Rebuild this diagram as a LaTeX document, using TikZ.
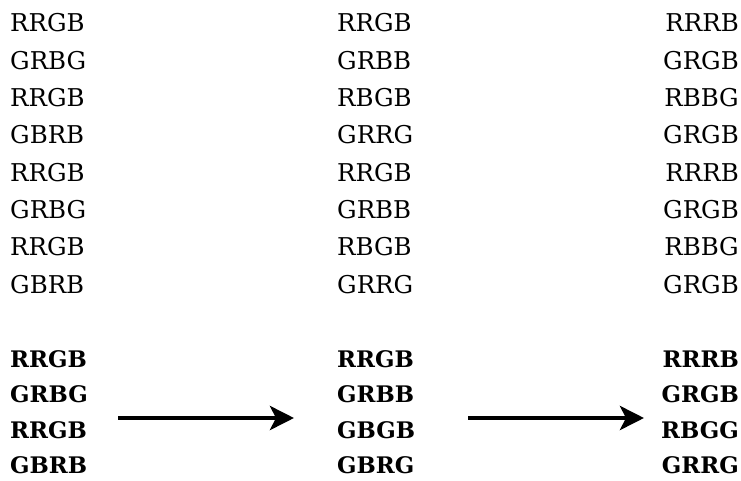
\documentclass[tikz,border=0pt]{standalone}
\usepackage{fontspec}
\setmainfont{DejaVu Serif}
\usetikzlibrary{arrows.meta}
\tikzset{
  seq/.style={inner sep=0pt, anchor=base west, font=\fontsize{24.5}{24.5}\selectfont},
  seqb/.style={seq, font=\fontsize{22.8}{22.8}\selectfont\bfseries},
  seqr/.style={seq, anchor=base east},
  seqbr/.style={seqb, anchor=base east},
  bigarrow/.style={line width=4.5pt, -{Stealth[length=24pt,width=24pt,inset=6pt]}}
}
\begin{document}
\begin{tikzpicture}[x=1pt,y=-1pt]
\useasboundingbox (0,0) rectangle (741,481);
% column 1
\node[seq] (a1) at (10,32) {RRGB};
\node[seq] (a2) at (10,69.3) {GRBG};
\node[seq] (a3) at (10,106.6) {RRGB};
\node[seq] (a4) at (10,143.9) {GBRB};
\node[seq] (a5) at (10,181.2) {RRGB};
\node[seq] (a6) at (10,218.5) {GRBG};
\node[seq] (a7) at (10,255.8) {RRGB};
\node[seq] (a8) at (10,293) {GBRB};
% column 2
\node[seq] (b1) at (337,32) {RRGB};
\node[seq] (b2) at (337,69.3) {GRBB};
\node[seq] (b3) at (337,106.6) {RBGB};
\node[seq] (b4) at (337,143.9) {GRRG};
\node[seq] (b5) at (337,181.2) {RRGB};
\node[seq] (b6) at (337,218.5) {GRBB};
\node[seq] (b7) at (337,255.8) {RBGB};
\node[seq] (b8) at (337,293) {GRRG};
% column 3
\node[seqr] (c1) at (739,32) {RRRB};
\node[seqr] (c2) at (739,69.3) {GRGB};
\node[seqr] (c3) at (739,106.6) {RBBG};
\node[seqr] (c4) at (739,143.9) {GRGB};
\node[seqr] (c5) at (739,181.2) {RRRB};
\node[seqr] (c6) at (739,218.5) {GRGB};
\node[seqr] (c7) at (739,255.8) {RBBG};
\node[seqr] (c8) at (739,293) {GRGB};
% bold rows
\node[seqb] (d1) at (10,367) {RRGB};
\node[seqb] (d2) at (10,402.5) {GRBG};
\node[seqb] (d3) at (10,438) {RRGB};
\node[seqb] (d4) at (10,473.5) {GBRB};
\node[seqb] (e1) at (337,367) {RRGB};
\node[seqb] (e2) at (337,402.5) {GRBB};
\node[seqb] (e3) at (337,438) {GBGB};
\node[seqb] (e4) at (337,473.5) {GBRG};
\node[seqbr] (f1) at (739,367) {RRRB};
\node[seqbr] (f2) at (739,402.5) {GRGB};
\node[seqbr] (f3) at (739,438) {RBGG};
\node[seqbr] (f4) at (739,473.5) {GRRG};
% arrows
\coordinate (p1) at (118,418);
\coordinate (q1) at (294,418);
\coordinate (p2) at (468,418);
\coordinate (q2) at (644,418);
\draw[bigarrow] (p1) -- (q1);
\draw[bigarrow] (p2) -- (q2);
\end{tikzpicture}
\end{document}
